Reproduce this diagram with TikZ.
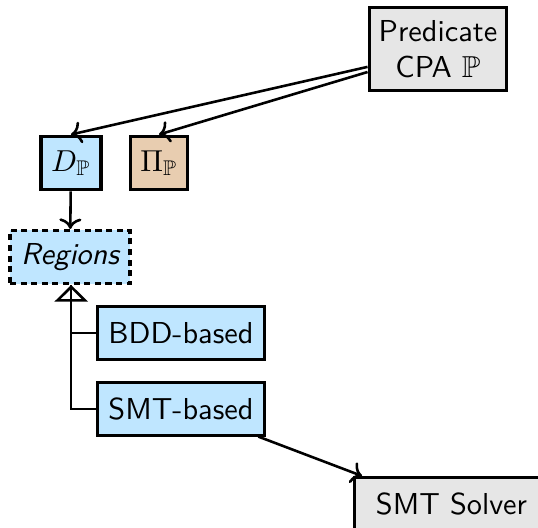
\documentclass[tikz,border=0pt]{standalone}
\usepackage{xcolor}
\usepackage{amsmath, amssymb}
\usepackage{tikz}
\usetikzlibrary{arrows.meta}

\definecolor{regblue}{HTML}{BFE6FF}
\definecolor{domtan}{HTML}{E8CDB0}
\definecolor{cpagray}{HTML}{E6E6E6}

\begin{document}
\begin{tikzpicture}[x=0.33pt,y=-0.33pt,font=\sffamily,
		box/.style={draw,line width=1pt,inner sep=2pt,align=center},
		link/.style={line width=0.85pt,->},
		inherit/.style={line width=0.85pt,-{Triangle[open,width=11pt,length=5.5pt]}}]
			
			\clip (0,0) rectangle (538,528);
			
			\node[box,fill=cpagray,minimum width=45.5pt,minimum height=27.1pt] (pred) at (438,49) {Predicate\\CPA $\mathbb{P}$};
			\node[box,fill=regblue,minimum width=19.8pt,minimum height=17.8pt] (dom) at (71,163) {$D_{\mathbb{P}}$};
			\node[box,fill=domtan,minimum width=19.1pt,minimum height=17.8pt] (prec) at (159,163) {$\Pi_{\mathbb{P}}$};
			\node[box,fill=regblue,dashed,dash pattern=on 2pt off 1.5pt,minimum width=39.6pt,minimum height=17.5pt] (regions) at (70,257) {\itshape Regions};
			\node[box,fill=regblue,minimum width=54.8pt,minimum height=17.2pt] (bdd) at (181,333) {BDD-based};
			\node[box,fill=regblue,minimum width=54.8pt,minimum height=17.2pt] (smt) at (181,409) {SMT-based};
			\node[box,fill=cpagray,anchor=north west,minimum width=64pt,minimum height=17.8pt] (solver) at (353,476) {SMT Solver};
			
			\draw[link] ([yshift=-5.9pt]pred.west) -- (dom.north);
			\draw[link] ([yshift=-7.6pt]pred.west) -- (prec.north);
			\draw[link] (dom) -- (regions);
			\draw[line width=0.85pt] (bdd.west) -| ([xshift=0.4pt]regions.south);
			\draw[inherit] (smt.west) -| ([xshift=0.4pt]regions.south);
			\draw[link] ([xshift=-2.4pt]smt.south east) -- ([xshift=3pt]solver.north west);
			
		\end{tikzpicture}
\end{document}
